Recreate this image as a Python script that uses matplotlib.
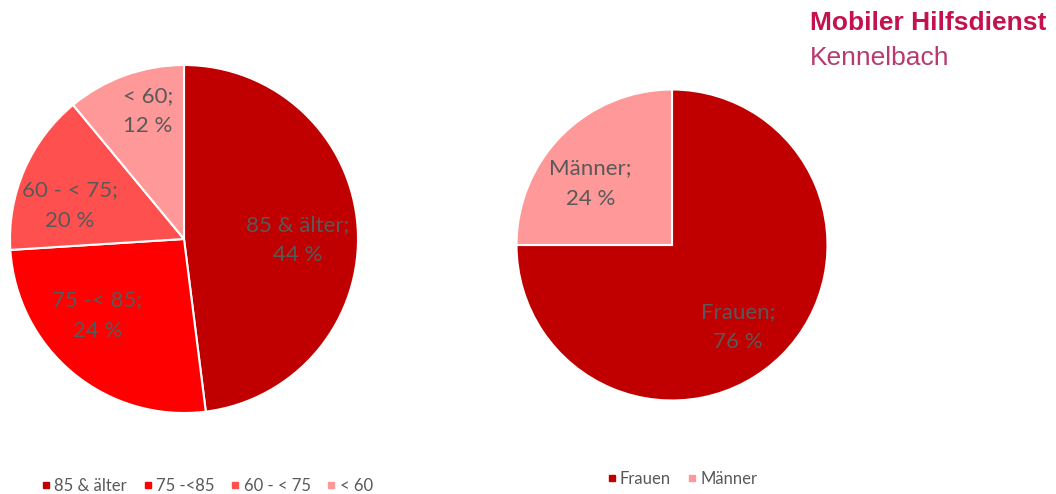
import numpy as np
import matplotlib.pyplot as plt
from matplotlib.lines import Line2D

# Age groups (left pie) - wedge sizes, label text as printed
age_groups = ['85 & älter', '75 -< 85', '60 - < 75', '< 60']
age_legend = ['85 & älter', '75 -<85', '60 - < 75', '< 60']
age_sizes = [48, 26, 15, 11]
age_pct = [44, 24, 20, 12]
age_colors = ['#C00000', '#FF0000', '#FF5050', '#FF9999']

# Gender (right pie)
sex_groups = ['Frauen', 'Männer']
sex_sizes = [75, 25]
sex_pct = [76, 24]
sex_colors = ['#C00000', '#FF9999']

W, H = 1056, 494
plt.rcParams['font.family'] = ['Lato', 'DejaVu Sans']
fig = plt.figure(figsize=(W / 100, H / 100), dpi=100)


def pie_axes(cx, cy, r):
    # pixel centre/radius -> figure fraction box
    return fig.add_axes([(cx - r) / W, (H - cy - r) / H, 2 * r / W, 2 * r / H])


def draw_pie(ax, sizes, colors, names, pct, dist, shift):
    wedges, _ = ax.pie(sizes, colors=colors, startangle=90, counterclock=False,
                       wedgeprops=dict(edgecolor='white', linewidth=1.5))
    # data labels placed like Excel's, near each wedge's middle
    for w, n, p, d, s in zip(wedges, names, pct, dist, shift):
        ang = np.deg2rad((w.theta1 + w.theta2) / 2 + s)
        ax.text(d * np.cos(ang), d * np.sin(ang), f'{n};\n{p} %',
                ha='center', va='center', fontsize=16, color='#595959',
                linespacing=1.65)
    ax.set_xlim(-1, 1)
    ax.set_ylim(-1, 1)
    ax.set_aspect('equal')
    ax.axis('off')
    return wedges


ax1 = pie_axes(184, 239, 174)
draw_pie(ax1, age_sizes, age_colors, age_groups, age_pct,
         [0.655, 0.664, 0.684, 0.764], [-4, -9, 7, -4])

ax2 = pie_axes(672, 245, 155.5)
draw_pie(ax2, sex_sizes, sex_colors, sex_groups, sex_pct,
         [0.677, 0.657], [-6, 8])


def handles(colors):
    return [Line2D([], [], marker='s', linestyle='none', markersize=4.5,
                   markerfacecolor=c, markeredgecolor=c) for c in colors]


leg_kw = dict(loc='center', frameon=False, fontsize=12, labelcolor='#595959',
              handletextpad=0.1, columnspacing=0.85, handlelength=0.8)
fig.legend(handles(age_colors), age_legend, ncol=4,
           bbox_to_anchor=(206 / W, 1 - 486 / H), **leg_kw)
fig.legend(handles(sex_colors), sex_groups, ncol=2,
           bbox_to_anchor=(681 / W, 1 - 479 / H), **leg_kw)

# Header top right
fig.text(810 / W, 1 - 23 / H, 'Mobiler Hilfsdienst', fontsize=19, fontweight='bold',
         color='#C4114F', family='Liberation Sans', va='center', ha='left')
fig.text(810 / W, 1 - 58 / H, 'Kennelbach', fontsize=19,
         color='#B83A70', family='Liberation Sans', va='center', ha='left')

fig.savefig('out.png', dpi=100, facecolor='white')
